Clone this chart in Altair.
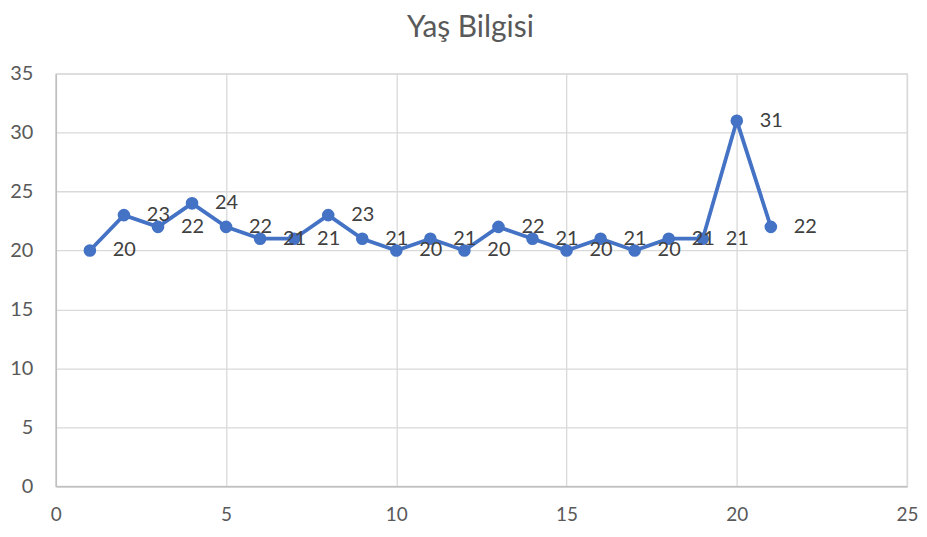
import altair as alt
import pandas as pd

ids = list(range(1, 22))
ages = [20, 23, 22, 24, 22, 21, 21, 23, 21, 20, 21, 20, 22, 21, 20, 21, 20, 21, 21, 31, 22]
x_ticks = [0, 5, 10, 15, 20, 25]
y_ticks = [0, 5, 10, 15, 20, 25, 30, 35]

df = pd.DataFrame({"x": ids, "y": ages})

FONT = "Lato"
BLUE = "#4472C4"

x_enc = alt.X("x:Q", scale=alt.Scale(domain=[0, 25], nice=False, zero=False),
              axis=alt.Axis(values=x_ticks, title=None, ticks=False, labelPadding=19,
                            labelFlush=False, labelOverlap=False,
                            labelFontSize=19, labelColor="#595959", labelFont=FONT,
                            gridColor="#d9d9d9", gridWidth=1.3,
                            domainColor="#bfbfbf", domainWidth=1.5))
y_enc = alt.Y("y:Q", scale=alt.Scale(domain=[0, 35], nice=False),
              axis=alt.Axis(values=y_ticks, title=None, ticks=False, labelPadding=23,
                            labelFlush=False, labelOverlap=False,
                            labelFontSize=20, labelColor="#595959", labelFont=FONT,
                            gridColor="#d9d9d9", gridWidth=1.3,
                            domainColor="#bfbfbf", domainWidth=1.5))

base = alt.Chart(df)
line = base.mark_line(color=BLUE, strokeWidth=3.8).encode(x=x_enc, y=y_enc)
pts = base.mark_circle(color=BLUE, size=160, opacity=1).encode(x="x:Q", y="y:Q")
labels = base.mark_text(align="left", baseline="middle", dx=23, fontSize=20,
                        font=FONT, color="#404040").encode(
    x="x:Q", y="y:Q", text="y:Q")

chart = (line + pts + labels).properties(
    width=854, height=414,
    autosize=alt.AutoSizeParams(type="none"),
    padding={"left": 48, "top": 65, "right": 12, "bottom": 42},
    title=alt.TitleParams("Yaş Bilgisi", font=FONT, fontSize=30, fontWeight="normal",
                          color="#595959", anchor="middle", dx=-11, offset=21),
).configure_view(stroke="#d9d9d9", strokeWidth=1.3)

chart.save("out.html", embed_options={"renderer": "svg", "actions": False})
